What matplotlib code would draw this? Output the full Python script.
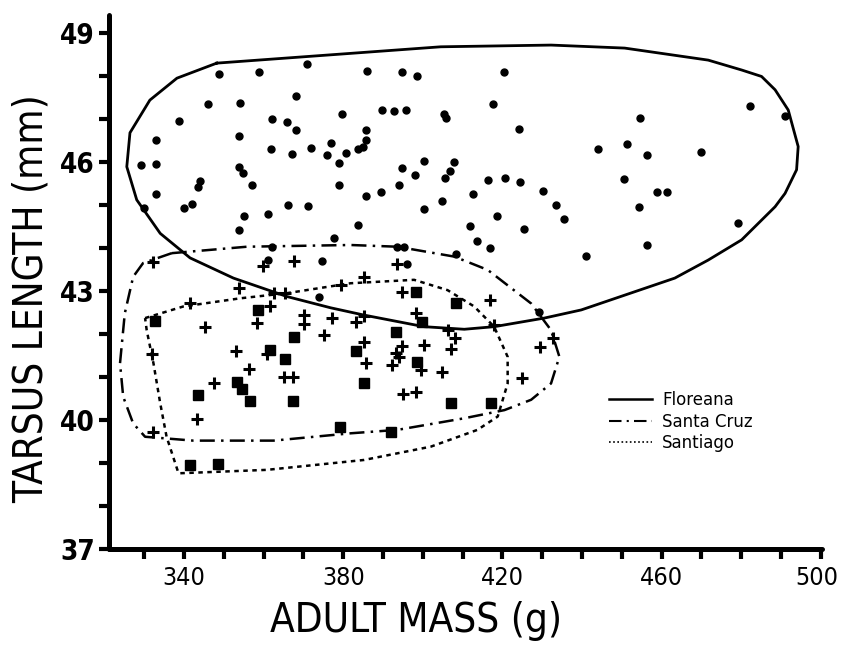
import matplotlib
matplotlib.use("Agg")
import matplotlib.pyplot as plt
from matplotlib.lines import Line2D
from matplotlib.transforms import ScaledTranslation

## Floreana birds (dots)
flor_mass = [348.7, 358.9, 371.0, 385.9, 394.8, 398.6, 368.0, 346.0, 354.0, 338.8,
             362.0, 365.8, 368.0, 379.6, 389.7, 392.8, 395.8, 405.2, 405.7, 333.0,
             353.9, 385.7, 385.8, 384.9, 383.6, 361.8, 367.0, 371.8, 376.9, 375.8,
             380.8, 379.0, 329.1, 333.0, 353.9, 354.9, 357.0, 344.0, 343.6, 333.0,
             330.0, 339.9, 341.9, 378.8, 385.8, 389.4, 394.0, 394.8, 398.1, 400.3,
             407.7, 406.7, 405.6, 404.7, 400.4, 355.0, 361.2, 366.0, 371.1, 353.9,
             383.8, 377.7, 362.0, 393.6, 395.3, 408.2, 420.5, 417.7, 424.2, 412.6,
             416.4, 420.7, 424.4, 430.1, 433.4, 435.5, 418.6, 411.8, 425.5, 413.5,
             416.9, 441.1, 443.9, 451.4, 454.6, 456.2, 450.5, 458.8, 461.3, 454.4,
             456.3, 469.8, 482.1, 491.1, 479.3, 361.1, 374.7, 373.8, 395.9, 429.3]
flor_tarsus = [48.05, 48.10, 48.28, 48.12, 48.10, 48.01, 47.54, 47.35, 47.37, 46.96,
               47.01, 46.92, 46.75, 47.12, 47.20, 47.19, 47.20, 47.11, 47.03, 46.51,
               46.60, 46.75, 46.51, 46.35, 46.31, 46.30, 46.18, 46.33, 46.44, 46.17,
               46.21, 45.97, 45.92, 45.96, 45.89, 45.74, 45.47, 45.56, 45.43, 45.26,
               44.93, 44.92, 45.02, 45.47, 45.22, 45.30, 45.47, 45.87, 45.69, 46.02,
               45.99, 45.79, 45.63, 45.10, 44.91, 44.75, 44.79, 44.99, 44.98, 44.42,
               44.53, 44.24, 44.02, 44.03, 44.02, 43.85, 48.10, 47.35, 46.76, 45.25,
               45.59, 45.62, 45.53, 45.32, 44.99, 44.67, 44.74, 44.51, 44.45, 44.17,
               44.01, 43.82, 46.30, 46.41, 47.03, 46.16, 45.61, 45.31, 45.31, 44.95,
               44.06, 46.23, 47.30, 47.06, 44.58, 43.71, 43.70, 42.85, 43.62, 42.50]

## Santa Cruz birds (crosses)
scruz_mass = [332.3, 359.8, 367.5, 353.7, 365.4, 362.5, 379.3, 341.5, 361.7, 358.3,
              370.1, 370.2, 377.2, 345.3, 375.1, 353.1, 360.8, 331.9, 356.2, 365.0,
              367.4, 347.4, 343.2, 332.3, 393.4, 385.2, 394.8, 416.9, 398.2, 385.2,
              383.1, 417.9, 406.2, 408.1, 385.2, 400.2, 407.0, 394.8, 393.2, 394.0,
              392.3, 385.6, 399.5, 404.7, 432.6, 429.5, 424.8, 395.1, 398.2]
scruz_tarsus = [43.68, 43.57, 43.70, 43.06, 42.95, 42.96, 43.14, 42.73, 42.64, 42.26,
                42.44, 42.23, 42.37, 42.17, 41.98, 41.61, 41.53, 41.53, 41.18, 41.01,
                41.01, 40.85, 40.02, 39.73, 43.62, 43.33, 42.98, 42.79, 42.48, 42.42,
                42.29, 42.21, 42.09, 41.90, 41.82, 41.74, 41.65, 41.71, 41.55, 41.47,
                41.28, 41.32, 41.16, 41.12, 41.90, 41.69, 40.97, 40.61, 40.64]

## Santiago birds (squares)
sant_mass = [332.7, 358.6, 367.5, 361.5, 365.4, 353.4, 354.5, 356.6, 367.4, 343.6,
             379.1, 341.5, 348.4, 398.2, 408.3, 399.8, 393.2, 383.3, 398.6, 385.2,
             407.0, 417.1, 391.9]
sant_tarsus = [42.31, 42.56, 41.92, 41.63, 41.41, 40.88, 40.71, 40.45, 40.43, 40.58,
               39.83, 38.95, 38.98, 42.98, 42.71, 42.29, 42.05, 41.61, 41.36, 40.85,
               40.39, 40.39, 39.71]

## outlines drawn round each island's birds
flor_hull_x = [348.2, 404.5, 432.2, 450.7, 471.7, 480.1, 485.1, 488.5, 491.8, 494.3,
               493.9, 491.0, 488.5, 480.1, 471.7, 463.3, 439.8, 430.5, 417.9, 410.4,
               400.3, 385.2, 376.8, 365.9, 352.4, 341.5, 334.0, 328.1, 325.6, 326.4,
               331.4, 338.2, 348.2]
flor_hull_y = [48.30, 48.68, 48.72, 48.65, 48.37, 48.14, 47.99, 47.68, 47.21, 46.36,
               45.82, 45.27, 44.96, 44.19, 43.72, 43.30, 42.56, 42.37, 42.17, 42.11,
               42.17, 42.44, 42.61, 42.87, 43.30, 43.77, 44.34, 45.12, 45.89, 46.68,
               47.44, 47.95, 48.30]
scruz_hull_x = [336.9, 355.8, 381.8, 393.6, 407.9, 416.3, 427.2, 432.2, 434.3, 432.2,
                427.2, 420.5, 410.4, 393.6, 381.8, 362.5, 342.3, 330.2, 327.2, 324.7,
                323.9, 325.1, 327.2, 329.7, 336.9]
scruz_hull_y = [43.88, 44.03, 44.07, 44.03, 43.80, 43.49, 42.71, 42.09, 41.47, 40.85,
                40.47, 40.23, 40.04, 39.77, 39.69, 39.52, 39.52, 39.61, 39.92, 40.54,
                41.32, 42.48, 43.33, 43.65, 43.88]
sant_hull_x = [330.2, 339.8, 354.1, 365.9, 381.8, 397.8, 406.2, 412.9, 417.9, 421.3,
               421.3, 418.8, 413.7, 402.0, 385.2, 360.8, 338.6, 335.6, 334.0, 332.3,
               330.6, 330.2]
sant_hull_y = [42.37, 42.64, 42.83, 42.95, 43.18, 43.26, 43.02, 42.64, 42.17, 41.47,
               40.85, 40.08, 39.77, 39.38, 39.07, 38.84, 38.76, 39.61, 40.39, 41.32,
               42.09, 42.37]

x_ticks = list(range(330, 501, 10))
x_labels = ['340', '380', '420', '460', '500']
y_ticks = list(range(37, 50))
y_labels = ['37', '40', '43', '46', '49']

plt.rcParams['font.family'] = ['DejaVu Sans']

fig = plt.figure(figsize=(8.44, 6.54), dpi=100)
ax = fig.add_axes([0.129, 0.1606, 0.845, 0.8165])

## hulls
ax.plot(flor_hull_x, flor_hull_y, color='black', lw=2.0, solid_joinstyle='round')
ax.plot(scruz_hull_x, scruz_hull_y, color='black', lw=1.8, linestyle=(0, (6, 2.5, 1, 2.5)))
ax.plot(sant_hull_x, sant_hull_y, color='black', lw=1.8, linestyle=(0, (1.8, 1.8)))

## points
ax.plot(flor_mass, flor_tarsus, 'o', color='black', ms=5, ls='none')
ax.plot(scruz_mass, scruz_tarsus, '+', color='black', ms=8, mew=2.2, ls='none')
ax.plot(sant_mass, sant_tarsus, 's', color='black', ms=6.5, ls='none')

ax.set_xlim(321.1, 500.3)
ax.set_ylim(37, 49.42)

for s in ['top', 'right']:
    ax.spines[s].set_visible(False)
for s in ['left', 'bottom']:
    ax.spines[s].set_linewidth(3.6)
    ax.spines[s].set_capstyle('round')

ax.set_xticks(x_ticks)
ax.set_xticklabels([str(t) if str(t) in x_labels else '' for t in x_ticks])
ax.set_yticks(y_ticks)
ax.set_yticklabels([str(t) if str(t) in y_labels else '' for t in y_ticks])
ax.tick_params(axis='both', direction='out', length=7, width=3)
ax.tick_params(axis='x', labelsize=18, pad=5)
ax.tick_params(axis='y', labelsize=20, pad=3)
for lab in ax.get_xticklabels():
    lab.set_fontstretch('condensed')
for lab in ax.get_yticklabels():
    lab.set_fontweight('bold')
    lab.set_fontstretch('condensed')

## keep the last x label inside the picture
last = ax.get_xticklabels()[-1]
last.set_horizontalalignment('right')
last.set_transform(last.get_transform() + ScaledTranslation(0.17, 0, fig.dpi_scale_trans))

ax.set_xlabel('ADULT MASS (g)', fontsize=29, fontstretch='condensed')
ax.set_ylabel('TARSUS LENGTH (mm)', fontsize=29, fontstretch='condensed')
ax.xaxis.set_label_coords(0.431, -0.098)
ax.yaxis.set_label_coords(-0.080, 0.468)

handles = [Line2D([], [], color='black', lw=1.8),
           Line2D([], [], color='black', lw=1.5, linestyle=(0, (6, 2.5, 1, 2.5))),
           Line2D([], [], color='black', lw=1.2, linestyle=(0, (1, 1.5)))]
ax.legend(handles, ['Floreana', 'Santa Cruz', 'Santiago'], loc='upper left',
          bbox_to_anchor=(0.689, 0.311), frameon=False, fontsize=12,
          handlelength=2.6, handletextpad=0.6, labelspacing=0.2, borderpad=0)

fig.savefig('out.png', dpi=100)
